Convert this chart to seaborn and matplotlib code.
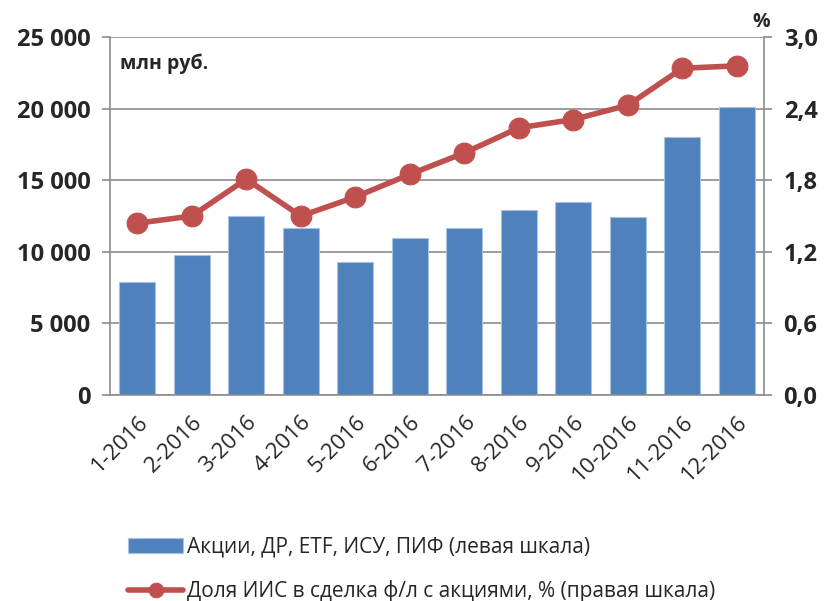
import numpy as np
import pandas as pd
import matplotlib
matplotlib.use("Agg")
import matplotlib.pyplot as plt
import seaborn as sns
from matplotlib.ticker import FuncFormatter

# Data
months = ['1-2016', '2-2016', '3-2016', '4-2016', '5-2016', '6-2016',
          '7-2016', '8-2016', '9-2016', '10-2016', '11-2016', '12-2016']
volume = [7900, 9800, 12500, 11700, 9300, 11000, 11700, 12900, 13500, 12400, 18000, 20100]
iis_share = [1.44, 1.50, 1.81, 1.50, 1.66, 1.85, 2.03, 2.24, 2.31, 2.43, 2.74, 2.76]

bar_label = 'Акции, ДР, ETF, ИСУ, ПИФ (левая шкала)'
line_label = 'Доля ИИС в сделка ф/л с акциями, % (правая шкала)'

sns.set_style('white')
plt.rcParams['font.family'] = ['Open Sans', 'DejaVu Sans']

df = pd.DataFrame({'month': months, 'volume': volume, 'share': iis_share})

fig = plt.figure(figsize=(8.27, 6.01), dpi=100)
ax = fig.add_axes([0.133, 0.343, 0.791, 0.595])

sns.barplot(data=df, x='month', y='volume', color='#4F81BD', saturation=1,
            width=0.66, edgecolor='#A9C2E0', linewidth=0.8, ax=ax, label=bar_label)
if ax.get_legend() is not None:
    ax.get_legend().remove()

ax.set_ylim(0, 25000)
ax.set_yticks(np.arange(0, 25001, 5000))
ax.yaxis.set_major_formatter(FuncFormatter(lambda v, p: f'{int(v):,}'.replace(',', ' ')))
ax.grid(axis='y', color='#8C8C8C', linewidth=1.2)
ax.set_axisbelow(True)
ax.set_xlim(-0.5, len(months) - 0.5)
ax.set_xlabel('')
ax.set_ylabel('')

# x ticks between categories
ax.set_xticks(np.arange(len(months)))
ax.set_xticklabels(months, rotation=45, ha='right', rotation_mode='anchor', fontsize=16)
ax.set_xticks(np.arange(-0.5, len(months), 1), minor=True)
ax.tick_params(axis='x', which='major', length=0, pad=12)
ax.tick_params(axis='x', which='minor', length=6, color='#8C8C8C', width=1.2)
ax.tick_params(axis='y', length=6, color='#8C8C8C', width=1.2, labelsize=17, pad=8)
for lab in ax.get_yticklabels():
    lab.set_fontweight('bold')

for side in ['top', 'right']:
    ax.spines[side].set_visible(False)
for side in ['left', 'bottom']:
    ax.spines[side].set_color('#8C8C8C')
    ax.spines[side].set_linewidth(1.2)

# Right axis with the share line
ax2 = ax.twinx()
sns.lineplot(x=np.arange(len(months)), y=iis_share, color='#C0504D', linewidth=4,
             marker='o', markersize=15, markeredgecolor='#C0504D', ax=ax2, label=line_label)
ax2.set_ylim(0, 3.0)
ax2.set_yticks(np.arange(0, 3.01, 0.6))
ax2.yaxis.set_major_formatter(FuncFormatter(lambda v, p: f'{v:.1f}'.replace('.', ',')))
ax2.tick_params(axis='y', length=6, color='#8C8C8C', width=1.2, labelsize=17, pad=8)
for lab in ax2.get_yticklabels():
    lab.set_fontweight('bold')
for side in ['top', 'left', 'bottom']:
    ax2.spines[side].set_visible(False)
ax2.spines['right'].set_color('#8C8C8C')
ax2.spines['right'].set_linewidth(1.2)
ax2.get_legend().remove()

ax.text(0.015, 0.955, 'млн руб.', transform=ax.transAxes, fontsize=14,
        fontweight='bold', va='top', ha='left')
ax2.text(0.995, 1.015, '%', transform=ax2.transAxes, fontsize=14,
         fontweight='bold', va='bottom', ha='center')

h1, l1 = ax.get_legend_handles_labels()
h2, l2 = ax2.get_legend_handles_labels()
fig.legend(h1 + h2, l1 + l2, loc='upper center', bbox_to_anchor=(0.51, 0.128),
           frameon=False, fontsize=15, labelspacing=1.1, handlelength=2.6,
           handletextpad=0.2, markerscale=0.7, borderaxespad=0.2)

fig.savefig('out.png', dpi=100)
